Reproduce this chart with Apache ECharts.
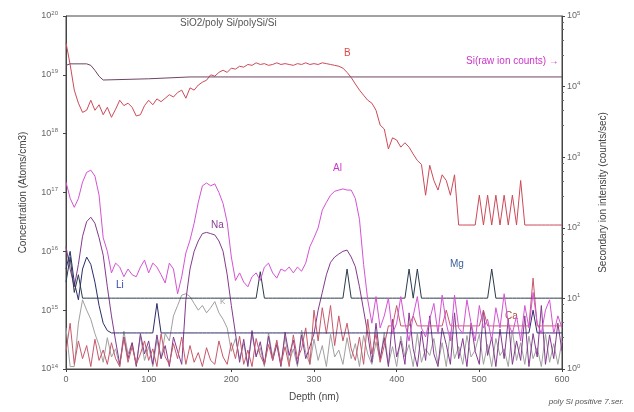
<!DOCTYPE html>
<html>
<head>
<meta charset="utf-8">
<script src="https://cdn.jsdelivr.net/npm/echarts@6.0.0/dist/echarts.min.js"></script>
<style>
  html, body { margin: 0; padding: 0; background: #fff; }
  #chart { width: 634px; height: 412px; }
</style>
</head>
<body>
<div id="chart"></div>
<script>
// depth grid in nm (5 nm steps, 0..600)
const depth = [];
for (let d = 0; d <= 600; d += 5) depth.push(d);

// Si raw ion counts (right axis, counts/sec)
const siDepth = [0, 5, 25, 30, 35, 40, 45, 100, 150, 600];
const siCounts = [2.0e4, 2.1e4, 2.1e4, 2.0e4, 1.7e4, 1.4e4, 1.24e4, 1.29e4, 1.37e4, 1.37e4];

// concentrations, atoms/cm3 (left axis), one value per depth step
const boron = [
  3.5e19, 1.5e19, 5.5e18, 3.3e18, 2.3e18, 2.5e18, 3.7e18, 2.5e18, 3.1e18, 2.1e18,
  2.8e18, 1.9e18, 2.6e18, 3.7e18, 3.0e18, 3.3e18, 2.8e18, 2.0e18, 2.1e18, 3.0e18,
  3.7e18, 3.1e18, 3.9e18, 3.5e18, 4.0e18, 4.6e18, 4.2e18, 5.0e18, 5.5e18, 4.0e18,
  6.0e18, 5.5e18, 6.7e18, 7.5e18, 8.1e18, 1.0e19, 9.5e18, 1.1e19, 1.2e19, 1.1e19,
  1.3e19, 1.25e19, 1.4e19, 1.35e19, 1.5e19, 1.45e19, 1.6e19, 1.5e19, 1.55e19, 1.45e19,
  1.5e19, 1.6e19, 1.5e19, 1.55e19, 1.5e19, 1.45e19, 1.55e19, 1.5e19, 1.6e19, 1.5e19,
  1.55e19, 1.5e19, 1.6e19, 1.55e19, 1.5e19, 1.45e19, 1.4e19, 1.3e19, 1.1e19, 9e18,
  7e18, 5.5e18, 4.5e18, 3.7e18, 3.3e18, 2.5e18, 1.4e18, 1.2e18, 5.5e17, 8.5e17,
  7.8e17, 5.9e17, 7.0e17, 5.9e17, 4.5e17, 3.5e17, 3.0e17, 9e16, 2.9e17, 1.6e17,
  1.1e17, 2.0e17, 1.6e17, 9e16, 2.0e17, 2.8e16, 2.8e16, 2.8e16, 2.8e16, 2.8e16,
  9e16, 2.8e16, 9e16, 2.8e16, 9e16, 2.8e16, 9e16, 2.8e16, 9e16, 2.8e16,
  1.6e17, 2.8e16, 2.8e16, 2.8e16, 2.8e16, 2.8e16, 2.8e16, 2.8e16, 2.8e16, 2.8e16,
  2.8e16
];

const aluminium = [
  1.5e17, 8e16, 5.6e16, 7.9e16, 1.5e17, 2.2e17, 2.4e17, 1.9e17, 9e16, 1.7e16,
  1.0e16, 4.3e15, 6.3e15, 5.4e15, 3.7e15, 5.0e15, 4.0e15, 3.7e15, 5.4e15, 7.1e15,
  4.3e15, 6.3e15, 5.4e15, 4.0e15, 2.9e15, 6.3e15, 5.0e15, 1.9e15, 3.7e15, 9.4e15,
  1.55e16, 3e16, 6.8e16, 1.3e17, 1.45e17, 1.3e17, 1.4e17, 1.0e17, 6.5e16, 3.1e16,
  8.0e15, 3.2e15, 4.3e15, 3.0e15, 2.5e15, 3.7e15, 4.3e15, 3.2e15, 5.4e15, 6.3e15,
  4.3e15, 3.5e15, 5.0e15, 4.6e15, 5.4e15, 4.3e15, 5.4e15, 4.6e15, 6.3e15, 1.2e16,
  1.7e16, 2.5e16, 5.0e16, 6.8e16, 9e16, 1.05e17, 1.1e17, 1.15e17, 1.1e17, 1.1e17,
  7.9e16, 3.5e16, 6e15, 1.5e15, 6e14, 1.7e15, 5e14, 8e14, 1.6e15, 4e14,
  6e14, 1.7e15, 6e14, 3e14, 8e14, 1.7e15, 5e14, 3.5e14, 7e14, 1.3e15,
  4e14, 1.8e15, 6e14, 3e14, 1.8e15, 5e14, 4e14, 1.5e15, 6e14, 3e14,
  1.2e15, 5e14, 7e14, 3e14, 1.1e15, 5e14, 1.9e15, 6e14, 4e14, 8e14,
  3e14, 1.2e15, 5e14, 2.0e15, 6e14, 4e14, 1.0e15, 1.5e15, 4e14, 8e14,
  5e14
];

const sodium = [
  1.2e16, 5e15, 2.5e15, 6e15, 1.8e16, 3.2e16, 3.8e16, 3.0e16, 1.7e16, 8.6e15,
  2.5e15, 8e14, 3e14, 1.2e14, 3.5e14, 1.5e14, 2.8e14, 1.1e14, 4e14, 1.8e14,
  3e14, 1.2e14, 3.8e14, 1.5e14, 2.5e14, 1.1e14, 3.5e14, 2e14, 1.2e14, 1.5e15,
  5e15, 1.0e16, 1.5e16, 2.0e16, 2.1e16, 2.0e16, 1.9e16, 1.5e16, 1.0e16, 4e15,
  1.2e15, 4e14, 1.3e14, 3.2e14, 1.1e14, 4.5e14, 1.6e14, 2.9e14, 1.2e14, 3.6e14,
  1.4e14, 2.6e14, 1.1e14, 4.2e14, 1.7e14, 3.1e14, 1.2e14, 3.8e14, 1.5e14, 2.4e14,
  4e14, 1e15, 2.0e15, 4e15, 6.5e15, 8e15, 9e15, 1.0e16, 1.05e16, 8e15,
  5.5e15, 2.5e15, 1.0e15, 4e14, 1.3e14, 6e14, 1.5e14, 3.4e14, 1.1e14, 7e14,
  1.6e14, 3e14, 1.2e14, 9e14, 2.2e14, 1.1e14, 4.4e14, 1.4e14, 8e14, 1.8e14,
  1.1e14, 5e14, 2.6e14, 1.2e14, 9e14, 1.5e14, 3.3e14, 1.1e14, 6e14, 2e14,
  1.2e14, 1.0e15, 1.7e14, 3.5e14, 1.1e14, 4.8e14, 1.5e14, 7e14, 1.2e14, 3e14,
  1.4e14, 8e14, 1.1e14, 4e14, 1.6e14, 1.2e15, 1.2e14, 3.8e14, 1.5e14, 6e14,
  2e14
];

const potassium = [
  5e14, 1.1e14, 1.1e14, 6e14, 1.5e15, 1.0e15, 7e14, 4e14, 2.5e14, 1.3e14,
  3.4e14, 1.6e14, 2.2e14, 1.1e14, 4.4e14, 1.8e14, 2.8e14, 1.2e14, 3.6e14, 1.4e14,
  2.4e14, 1.1e14, 3.1e14, 1.5e14, 4e14, 3e14, 8e14, 1.2e15, 1.8e15, 1.9e15,
  1.7e15, 1.3e15, 1.0e15, 1.2e15, 9e14, 1.1e15, 1.4e15, 9e14, 7e14, 5e14,
  2e14, 3.3e14, 1.5e14, 2.7e14, 1.2e14, 3.8e14, 1.7e14, 2.3e14, 1.1e14, 4.1e14,
  1.6e14, 2.9e14, 1.2e14, 3.5e14, 1.3e14, 2.2e14, 1.1e14, 4.6e14, 1.9e14, 1.2e14,
  3.2e14, 1.4e14, 2.5e14, 1.1e14, 3.9e14, 1.6e14, 2.1e14, 1.2e14, 3.4e14, 1.5e14,
  2.7e14, 1.1e14, 3.7e14, 1.8e14, 1.2e14, 2.9e14, 1.4e14, 4.2e14, 1.2e14, 2.4e14,
  1.1e14, 3.6e14, 1.6e14, 2.6e14, 1.1e14, 4e14, 1.3e14, 2.2e14, 1.7e14, 3.3e14,
  1.2e14, 2.8e14, 1.1e14, 4.3e14, 1.5e14, 2.4e14, 1.2e14, 3.7e14, 1.6e14, 2.1e14,
  3.9e14, 1.2e14, 2.6e14, 1.1e14, 3.3e14, 1.7e14, 2.2e14, 1.1e14, 4.5e14, 1.4e14,
  2.8e14, 1.2e14, 3.6e14, 1.5e14, 2.3e14, 1.1e14, 3.9e14, 1.3e14, 2.7e14, 1.2e14,
  3e14
];

const lithium = [
  5e15, 1.0e16, 3e15, 1.5e15, 5e15, 8e15, 6e15, 3e15, 1.2e15, 6e14,
  4.5e14, 4.1e14, 4.1e14, 4.1e14, 4.1e14, 4.1e14, 4.1e14, 4.1e14, 4.1e14, 4.1e14,
  4.1e14, 4.1e14, 1.3e15, 4.1e14, 4.1e14, 4.1e14, 4.1e14, 4.1e14, 4.1e14, 4.1e14,
  4.1e14, 4.1e14, 4.1e14, 4.1e14, 4.1e14, 4.1e14, 4.1e14, 4.1e14, 4.1e14, 4.1e14,
  4.1e14, 4.1e14, 4.1e14, 4.1e14, 4.1e14, 4.1e14, 4.1e14, 4.1e14, 4.1e14, 4.1e14,
  4.1e14, 4.1e14, 4.1e14, 4.1e14, 4.1e14, 4.1e14, 4.1e14, 4.1e14, 4.1e14, 4.1e14,
  4.1e14, 4.1e14, 4.1e14, 4.1e14, 4.1e14, 4.1e14, 4.1e14, 4.1e14, 4.1e14, 4.1e14,
  4.1e14, 4.1e14, 4.1e14, 4.1e14, 4.1e14, 4.1e14, 4.1e14, 4.1e14, 4.1e14, 4.1e14,
  4.1e14, 4.1e14, 4.1e14, 4.1e14, 4.1e14, 4.1e14, 4.1e14, 4.1e14, 4.1e14, 4.1e14,
  4.1e14, 4.1e14, 4.1e14, 4.1e14, 4.1e14, 4.1e14, 4.1e14, 4.1e14, 4.1e14, 4.1e14,
  4.1e14, 4.1e14, 4.1e14, 4.1e14, 4.1e14, 4.1e14, 4.1e14, 4.1e14, 4.1e14, 4.1e14,
  4.1e14, 4.1e14, 4.1e14, 1.0e15, 4.1e14, 4.1e14, 4.1e14, 4.1e14, 4.1e14, 4.1e14,
  4.1e14
];

const magnesium = [
  3e15, 8e15, 2e15, 4e15, 1.6e15, 1.6e15, 1.6e15, 1.6e15, 1.6e15, 1.6e15,
  1.6e15, 1.6e15, 1.6e15, 1.6e15, 1.6e15, 1.6e15, 1.6e15, 1.6e15, 1.6e15, 1.6e15,
  1.6e15, 1.6e15, 1.6e15, 1.6e15, 1.6e15, 1.6e15, 1.6e15, 1.6e15, 1.6e15, 1.6e15,
  1.6e15, 1.6e15, 1.6e15, 1.6e15, 1.6e15, 1.6e15, 1.6e15, 1.6e15, 1.6e15, 1.6e15,
  1.6e15, 1.6e15, 1.6e15, 1.6e15, 1.6e15, 1.6e15, 1.6e15, 4.5e15, 1.6e15, 1.6e15,
  1.6e15, 1.6e15, 1.6e15, 1.6e15, 1.6e15, 1.6e15, 1.6e15, 1.6e15, 1.6e15, 1.6e15,
  1.6e15, 1.6e15, 1.6e15, 1.6e15, 1.6e15, 1.6e15, 1.6e15, 1.6e15, 5e15, 1.6e15,
  1.6e15, 1.6e15, 1.6e15, 1.6e15, 1.6e15, 1.6e15, 1.6e15, 1.6e15, 1.6e15, 1.6e15,
  1.6e15, 1.6e15, 1.6e15, 5e15, 1.6e15, 5e15, 1.6e15, 1.6e15, 1.6e15, 1.6e15,
  1.6e15, 1.6e15, 1.6e15, 1.6e15, 1.6e15, 1.6e15, 1.6e15, 1.6e15, 1.6e15, 1.6e15,
  1.6e15, 1.6e15, 1.6e15, 5e15, 1.6e15, 1.6e15, 1.6e15, 1.6e15, 1.6e15, 1.6e15,
  1.6e15, 1.6e15, 1.6e15, 1.6e15, 1.6e15, 1.6e15, 1.6e15, 1.6e15, 1.6e15, 1.6e15,
  1.6e15
];

const calcium = [
  2e14, 6e14, 1.2e14, 3e14, 1.5e14, 2.5e14, 1.1e14, 3.2e14, 1.4e14, 2.1e14,
  1.2e14, 2.8e14, 1.5e14, 1.1e14, 3.4e14, 1.3e14, 2.4e14, 1.2e14, 1.8e14, 3e14,
  1.4e14, 2.2e14, 1.1e14, 4e14, 1.6e14, 1.2e14, 2.7e14, 1.5e14, 3.5e14, 1.2e14,
  2.5e14, 1.3e14, 1.9e14, 1.1e14, 2.3e14, 1.4e14, 1.2e14, 3e14, 1.6e14, 1.2e14,
  2.8e14, 1.5e14, 3.6e14, 1.2e14, 2.1e14, 1.1e14, 3.3e14, 1.7e14, 1.2e14, 2.6e14,
  1.4e14, 3.1e14, 1.2e14, 2.4e14, 1.1e14, 3.8e14, 1.5e14, 2.2e14, 5e14, 1.2e14,
  1.0e15, 3e14, 1.1e15, 4e14, 1.2e15, 2.5e14, 8e14, 3e14, 6e14, 2.2e14,
  1.4e14, 3.5e14, 1.2e14, 7e14, 1.8e14, 4e14, 1.3e14, 2.5e14, 5.4e14, 5.4e14,
  1.2e15, 5.4e14, 5.4e14, 5.4e14, 8e14, 5.4e14, 5.4e14, 5.4e14, 5.4e14, 5.4e14,
  5.4e14, 5.4e14, 1.0e15, 5.4e14, 5.4e14, 5.4e14, 5.4e14, 5.4e14, 5.4e14, 5.4e14,
  5.4e14, 1.0e15, 5.4e14, 5.4e14, 5.4e14, 5.4e14, 5.4e14, 5.4e14, 5.4e14, 5.4e14,
  5.4e14, 5.4e14, 5.4e14, 3.5e15, 5.4e14, 5.4e14, 5.4e14, 5.4e14, 5.4e14, 5.4e14,
  5.4e14
];

const leftTicks = [1e14, 1e15, 1e16, 1e17, 1e18, 1e19, 1e20];

function pairs(xs, ys) {
  return ys.map((v, i) => [xs[i], v]);
}

function line(name, data, color, yAxisIndex, z) {
  return {
    name: name,
    type: 'line',
    yAxisIndex: yAxisIndex || 0,
    data: data,
    symbol: 'none',
    z: z || 2,
    lineStyle: { color: color, width: 1 },
    itemStyle: { color: color },
    silent: true
  };
}

const powLabel = {
  fontSize: 9,
  color: '#666',
  fontFamily: 'Liberation Sans',
  formatter: v => '10{p|' + Math.round(Math.log10(v)) + '}',
  rich: { p: { fontSize: 6, color: '#666', padding: [0, 0, 6, 0] } }
};

const chart = echarts.init(document.getElementById('chart'), null, { renderer: 'canvas' });

const option = {
  animation: false,
  backgroundColor: '#fff',
  textStyle: { fontFamily: 'Liberation Sans' },
  grid: {
    left: 66, right: 72, top: 16, bottom: 43,
    show: true, borderColor: '#444', borderWidth: 1
  },
  xAxis: {
    type: 'value',
    min: 0, max: 600, interval: 100,
    name: 'Depth (nm)',
    nameLocation: 'middle',
    nameGap: 23,
    nameTextStyle: { fontSize: 10, color: '#444' },
    axisLine: { lineStyle: { color: '#444' } },
    axisTick: { length: 3, lineStyle: { color: '#444' } },
    axisLabel: { fontSize: 9, color: '#666', margin: 6 },
    splitLine: { show: false }
  },
  yAxis: [{
    type: 'log',
    min: leftTicks[0], max: leftTicks[leftTicks.length - 1],
    interval: 1,
    logBase: 10,
    name: 'Concentration (Atoms/cm3)',
    nameLocation: 'middle',
    nameGap: 38,
    nameTextStyle: { fontSize: 10, color: '#444' },
    axisLine: { show: true, lineStyle: { color: '#444' } },
    axisTick: { length: 3, lineStyle: { color: '#444' } },
    axisLabel: Object.assign({ margin: 8 }, powLabel),
    splitLine: { show: false }
  }, {
    type: 'log',
    min: 1, max: 1e5,
    interval: 1,
    logBase: 10,
    position: 'right',
    name: 'Secondary ion intensity (counts/sec)',
    nameLocation: 'middle',
    nameGap: 36,
    nameTextStyle: { fontSize: 10, color: '#444' },
    axisLine: { show: true, lineStyle: { color: '#444' } },
    axisTick: { length: 3, lineStyle: { color: '#444' } },
    minorTick: { show: true, splitNumber: 5, length: 2, lineStyle: { color: '#666' } },
    axisLabel: Object.assign({ margin: 5 }, powLabel),
    splitLine: { show: false }
  }],
  series: [
    line('K', pairs(depth, potassium), '#a0a0a0', 0, 1),
    line('Na', pairs(depth, sodium), '#833a8e', 0, 2),
    line('Ca', pairs(depth, calcium), '#c8586a', 0, 2),
    line('Li', pairs(depth, lithium), '#2c2c6a', 0, 3),
    line('Mg', pairs(depth, magnesium), '#2a3c4c', 0, 3),
    line('Al', pairs(depth, aluminium), '#d453d4', 0, 3),
    line('B', pairs(depth, boron), '#cc4a58', 0, 4),
    line('Si', pairs(siDepth, siCounts), '#6e4464', 1, 4)
  ],
  graphic: [
    { type: 'text', left: 180, top: 18, style: { text: 'SiO2/poly Si/polySi/Si', fontSize: 10, fill: '#555', fontFamily: 'Liberation Sans' } },
    { type: 'text', left: 344, top: 48, style: { text: 'B', fontSize: 10, fill: '#e04848', fontFamily: 'Liberation Sans' } },
    { type: 'text', left: 466, top: 56, style: { text: 'Si(raw ion counts) \u2192', fontSize: 10, fill: '#cc33cc', fontFamily: 'Liberation Sans' } },
    { type: 'text', left: 333, top: 163, style: { text: 'Al', fontSize: 10, fill: '#cc33cc', fontFamily: 'Liberation Sans' } },
    { type: 'text', left: 211, top: 220, style: { text: 'Na', fontSize: 10, fill: '#8a3d95', fontFamily: 'Liberation Sans' } },
    { type: 'text', left: 116, top: 280, style: { text: 'Li', fontSize: 10, fill: '#3344aa', fontFamily: 'Liberation Sans' } },
    { type: 'text', left: 450, top: 259, style: { text: 'Mg', fontSize: 10, fill: '#3a5f99', fontFamily: 'Liberation Sans' } },
    { type: 'text', left: 220, top: 298, style: { text: 'K', fontSize: 8, fill: '#999', fontFamily: 'Liberation Sans' } },
    { type: 'text', left: 505, top: 311, style: { text: 'Ca', fontSize: 10, fill: '#b04a30', fontFamily: 'Liberation Sans' } },
    { type: 'text', right: 10, top: 398, style: { text: 'poly Si positive 7.ser.', fontSize: 8, fill: '#555', fontStyle: 'italic', fontFamily: 'Liberation Sans' } }
  ]
};

chart.setOption(option);
</script>
</body>
</html>
